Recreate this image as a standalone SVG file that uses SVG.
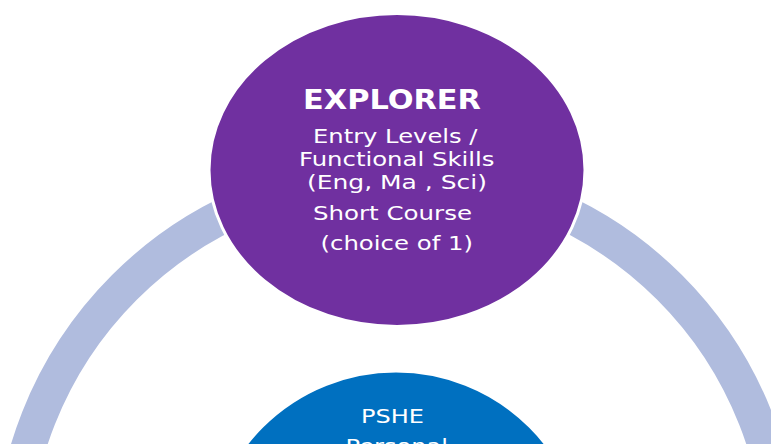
<svg xmlns="http://www.w3.org/2000/svg" width="771" height="444" viewBox="0 0 771 444">
  <style>
    .ring { fill: none; stroke: #B0BCDE; stroke-width: 35; }
    .node { stroke: #FFFFFF; stroke-width: 3; }
    .t { font-family: "DejaVu Sans", Verdana, sans-serif; fill: #FFFFFF; font-size: 19.6px; }
    .b { font-weight: bold; font-size: 26px; }
  </style>
  <rect x="0" y="0" width="771" height="444" fill="#FFFFFF"/>
  <g id="connectors">
    <circle class="ring" cx="397" cy="560" r="385.5"/>
  </g>
  <g id="explorer">
    <ellipse class="node" cx="397" cy="170" rx="188" ry="156.5" fill="#7030A0"/>
    <text class="t b" x="303" y="109.3" textLength="178" lengthAdjust="spacingAndGlyphs">EXPLORER</text>
    <text class="t" x="313" y="142.7" textLength="164.5" lengthAdjust="spacingAndGlyphs">Entry Levels /</text>
    <text class="t" x="299" y="165.7" textLength="195.5" lengthAdjust="spacingAndGlyphs">Functional Skills</text>
    <text class="t" x="307" y="189" textLength="180" lengthAdjust="spacingAndGlyphs">(Eng, Ma , Sci)</text>
    <text class="t" x="313" y="220" textLength="159" lengthAdjust="spacingAndGlyphs">Short Course</text>
    <text class="t" x="320.5" y="250" textLength="152.5" lengthAdjust="spacingAndGlyphs">(choice of 1)</text>
  </g>
  <g id="pshe">
    <circle class="node" cx="396" cy="560.5" r="189.5" fill="#0070C0"/>
    <text class="t" x="361" y="423.3" textLength="63" lengthAdjust="spacingAndGlyphs">PSHE</text>
    <text class="t" x="345.5" y="453" textLength="102.5" lengthAdjust="spacingAndGlyphs">Personal</text>
  </g>
</svg>
